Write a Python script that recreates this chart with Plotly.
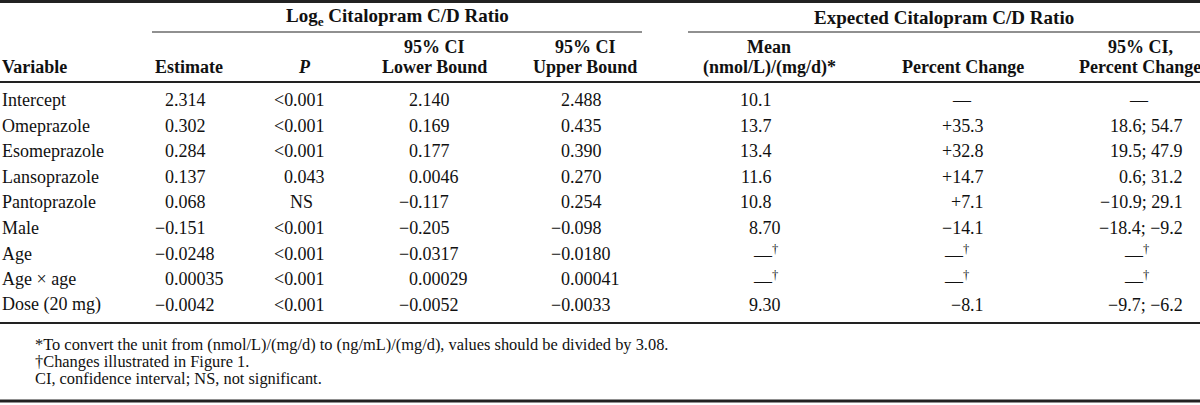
import plotly.graph_objects as go

# ---------------- data ----------------
variables = ["Intercept", "Omeprazole", "Esomeprazole", "Lansoprazole", "Pantoprazole",
             "Male", "Age", "Age \u00d7 age", "Dose (20 mg)"]
estimate = ["2.314", "0.302", "0.284", "0.137", "0.068", "\u22120.151", "\u22120.0248", "0.00035", "\u22120.0042"]
p_value = ["<0.001", "<0.001", "<0.001", "0.043", "NS", "<0.001", "<0.001", "<0.001", "<0.001"]
ci_lower = ["2.140", "0.169", "0.177", "0.0046", "\u22120.117", "\u22120.205", "\u22120.0317", "0.00029", "\u22120.0052"]
ci_upper = ["2.488", "0.435", "0.390", "0.270", "0.254", "\u22120.098", "\u22120.0180", "0.00041", "\u22120.0033"]
mean_cd = ["10.1", "13.7", "13.4", "11.6", "10.8", "8.70", "\u2014\u2020", "\u2014\u2020", "9.30"]
pct_change = ["\u2014", "+35.3", "+32.8", "+14.7", "+7.1", "\u221214.1", "\u2014\u2020", "\u2014\u2020", "\u22128.1"]
ci_pct = ["\u2014", "18.6; 54.7", "19.5; 47.9", "0.6; 31.2", "\u221210.9; 29.1", "\u221218.4; \u22129.2",
          "\u2014\u2020", "\u2014\u2020", "\u22129.7; \u22126.2"]

group_headers = ["Log<sub>e</sub> Citalopram C/D Ratio", "Expected Citalopram C/D Ratio"]
col_headers = [["", "Variable"], ["", "Estimate"], ["", "<i>P</i>"], ["95% CI", "Lower Bound"],
               ["95% CI", "Upper Bound"], ["Mean", "(nmol/L)/(mg/d)*"], ["", "Percent Change"],
               ["95% CI,", "Percent Change"]]
footnotes = ["*To convert the unit from (nmol/L)/(mg/d) to (ng/mL)/(mg/d), values should be divided by 3.08.",
             "\u2020Changes illustrated in Figure 1.",
             "CI, confidence interval; NS, not significant."]

# ---------------- layout config ----------------
FONT = "Liberation Serif, Times New Roman, serif"
TXT = "#111111"
W, H = 1200, 405
ROW_Y0, ROW_DY = 100, 25.6
GROUP_Y, HEAD_Y1, HEAD_Y2 = 17, 47, 67
header_centers = [None, 189, 304, 434, 585, 769, 963, 1140]
decimal_x = {"est": 174, "p": 293, "lo": 418, "up": 570, "mean": 758, "pct": 970}
dash_center = {"p": 301, "mean": 768, "pct": 962, "cip": 1139}
dash_dag_left = {"mean": 753, "pct": 944, "cip": 1124}
cip_right = 1183
FOOT_X, FOOT_Y0, FOOT_DY, FOOT_SIZE = 35, 344, 17, 16.4

fig = go.Figure()
fig.add_trace(go.Scatter(x=[0, W], y=[0, H], mode="markers",
                         marker=dict(opacity=0), hoverinfo="skip", showlegend=False))


def ann(x, y, text, xanchor="center", size=18, bold=False):
    if bold:
        text = "<b>" + text + "</b>"
    fig.add_annotation(x=x, y=y, xref="x", yref="y", text=text, showarrow=False,
                       xanchor=xanchor, yanchor="middle", borderpad=0, borderwidth=0,
                       font=dict(family=FONT, size=size, color=TXT))


def esc(s, sup=True):
    s = s.replace("<", "&lt;")
    if sup:
        s = s.replace("\u2020", "<sup>\u2020</sup>")
    return s


def dec_cell(key, y, s):
    if s.startswith("\u2014"):
        if "\u2020" in s:
            ann(dash_dag_left[key], y, esc(s), "left")
        else:
            ann(dash_center[key], y, esc(s), "center")
        return
    if "." not in s:
        ann(dash_center[key], y, esc(s), "center")
        return
    i = s.index(".")
    ann(decimal_x[key], y, esc(s[:i]), "right")
    ann(decimal_x[key], y, esc(s[i:]), "left")


# group headers
ann(397, GROUP_Y, group_headers[0], size=19, bold=True)
ann(944, GROUP_Y, group_headers[1], size=19, bold=True)

# column headers
for j, (h1, h2) in enumerate(col_headers):
    if j == 0:
        ann(2, HEAD_Y2, h2, "left", bold=True)
        continue
    if h1:
        ann(header_centers[j], HEAD_Y1, h1, bold=True)
    ann(header_centers[j], HEAD_Y2, h2, bold=True)

# body
for i, v in enumerate(variables):
    y = ROW_Y0 + i * ROW_DY
    ann(2, y, esc(v), "left")
    dec_cell("est", y, estimate[i])
    dec_cell("p", y, p_value[i])
    dec_cell("lo", y, ci_lower[i])
    dec_cell("up", y, ci_upper[i])
    dec_cell("mean", y, mean_cd[i])
    dec_cell("pct", y, pct_change[i])
    s = ci_pct[i]
    if s.startswith("\u2014"):
        dec_cell("cip", y, s)
    else:
        ann(cip_right, y, esc(s), "right")

# footnotes
for k, f in enumerate(footnotes):
    ann(FOOT_X, FOOT_Y0 + k * FOOT_DY, esc(f, sup=False), "left", size=FOOT_SIZE)

# rules
LC = "#222222"
rules = [
    (0, W, 1.5, 3),
    (152, 642, 32, 1.2),
    (688, W, 32, 1.2),
    (0, W, 82, 2),
    (0, W, 323, 2),
    (0, W, 401, 3),
]
for x0, x1, yy, lw in rules:
    fig.add_shape(type="line", x0=x0, x1=x1, y0=yy, y1=yy, xref="x", yref="y",
                  line=dict(color=LC, width=lw))

fig.update_layout(
    width=W, height=H, margin=dict(l=0, r=0, t=0, b=0),
    paper_bgcolor="white", plot_bgcolor="white",
    xaxis=dict(range=[0, W], visible=False, fixedrange=True),
    yaxis=dict(range=[H, 0], visible=False, fixedrange=True),
    showlegend=False,
)
# remove the default 8px page margin so the figure sits at the window's corner
fig.write_html("out.html", config={"displayModeBar": False, "staticPlot": True},
               post_script="document.body.style.margin='0px';document.body.style.overflow='hidden';")
